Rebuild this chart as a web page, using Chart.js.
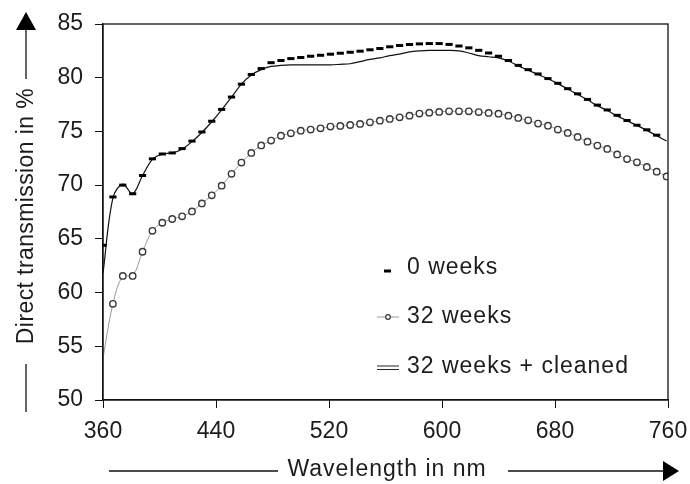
<!DOCTYPE html>
<html>
<head>
<meta charset="utf-8">
<script src="https://cdn.jsdelivr.net/npm/chart.js@4.4.1/dist/chart.umd.min.js"></script>
<style>
  html, body { margin: 0; padding: 0; background: #fff; }
  #wrap { width: 690px; height: 484px; position: relative; }
</style>
</head>
<body>
<div id="wrap"><canvas id="grafico"></canvas></div>
<script>
// Longitudes de onda (nm) de cada punto medido
const wavelengths = [
  360, 367, 374, 381, 388, 395, 402, 409, 416, 423, 430, 437, 444, 451, 458,
  465, 472, 479, 486, 493, 500, 507, 514, 521, 528, 535, 542, 549, 556, 563,
  570, 577, 584, 591, 598, 605, 612, 619, 626, 633, 640, 647, 654, 661, 668,
  675, 682, 689, 696, 703, 710, 717, 724, 731, 738, 745, 752, 759];

// Serie "0 weeks" (marcas de guion)
const weeks0 = [
  64.4, 68.9, 70.0, 69.2, 70.9, 72.45, 72.9, 73.0, 73.4, 74.1, 74.95, 75.95, 77.05, 78.2, 79.4,
  80.3, 80.85, 81.4, 81.6, 81.78, 81.88, 82.0, 82.09, 82.19, 82.28, 82.37, 82.47, 82.6, 82.72, 82.88,
  83.0, 83.09, 83.15, 83.18, 83.18, 83.1, 82.95, 82.78, 82.55, 82.3, 82.0, 81.6, 81.15, 80.75, 80.35,
  79.92, 79.48, 78.98, 78.5, 77.98, 77.45, 77.0, 76.5, 76.02, 75.58, 75.15, 74.65];

// Serie "32 weeks" (círculos)
const weeks32 = [
  53.9, 58.95, 61.55, 61.55, 63.8, 65.75, 66.5, 66.85, 67.1, 67.55, 68.3, 69.05, 69.95, 71.05, 72.1,
  73.0, 73.7, 74.15, 74.6, 74.82, 75.07, 75.17, 75.29, 75.45, 75.51, 75.6, 75.7, 75.85, 76.0, 76.16,
  76.31, 76.47, 76.66, 76.75, 76.82, 76.87, 76.87, 76.87, 76.8, 76.72, 76.65, 76.47, 76.26, 76.03, 75.73,
  75.54, 75.17, 74.86, 74.49, 74.05, 73.68, 73.37, 72.86, 72.43, 72.12, 71.69, 71.25, 70.81];

// Serie "32 weeks + cleaned" (línea continua)
const weeks32Cleaned = [
  61.8, 68.8, 70.1, 69.2, 70.9, 72.4, 72.9, 73.0, 73.35, 74.05, 74.9, 75.9, 77.0, 78.2, 79.4,
  80.25, 80.75, 81.05, 81.15, 81.2, 81.2, 81.2, 81.2, 81.2, 81.25, 81.3, 81.5, 81.7, 81.85, 82.05,
  82.2, 82.4, 82.5, 82.55, 82.55, 82.55, 82.5, 82.3, 82.05, 81.95, 81.85, 81.55, 81.1, 80.7, 80.3,
  79.9, 79.45, 78.95, 78.45, 77.95, 77.4, 76.95, 76.45, 76.0, 75.55, 75.1, 74.6, 74.1];

const seriesNames = ['0 weeks', '32 weeks', '32 weeks + cleaned'];
const yTicks = [50, 55, 60, 65, 70, 75, 80, 85];
const xTicks = [360, 440, 520, 600, 680, 760];
const yTitle = 'Direct transmission in %';
const xTitle = 'Wavelength in nm';

const FONT = '"Liberation Sans", Arial, Helvetica, sans-serif';
const INK = '#1c1c1c';

// Convierte una serie en pares {x, y}
function toPoints(values) {
  return values.map((v, i) => ({ x: wavelengths[i], y: v }));
}

// Dibuja marco, leyenda y títulos de ejes con flechas
const decorPlugin = {
  id: 'decor',
  afterDraw(chart) {
    const ctx = chart.ctx;
    const a = chart.chartArea;
    ctx.save();

    // Marco del área de trazado
    ctx.strokeStyle = '#111';
    ctx.lineWidth = 1.3;
    ctx.strokeRect(a.left, a.top, a.right - a.left, a.bottom - a.top);

    // Leyenda dentro del gráfico
    ctx.font = '23px ' + FONT;
    ctx.fillStyle = INK;
    ctx.textBaseline = 'middle';
    ctx.textAlign = 'left';
    if ('letterSpacing' in ctx) ctx.letterSpacing = '1px';
    const legendY = [268, 317, 367];
    seriesNames.forEach((name, i) => ctx.fillText(name, 407, legendY[i]));

    // Marcador "0 weeks"
    ctx.strokeStyle = '#000';
    ctx.lineWidth = 3;
    ctx.beginPath(); ctx.moveTo(384, 271); ctx.lineTo(391, 271); ctx.stroke();
    // Marcador "32 weeks"
    ctx.strokeStyle = '#999';
    ctx.lineWidth = 1;
    ctx.beginPath(); ctx.moveTo(377, 317); ctx.lineTo(399, 317); ctx.stroke();
    ctx.fillStyle = '#fff';
    ctx.strokeStyle = '#333';
    ctx.lineWidth = 1.2;
    ctx.beginPath(); ctx.arc(388, 317, 2.3, 0, Math.PI * 2); ctx.fill(); ctx.stroke();
    // Marcador "32 weeks + cleaned"
    ctx.strokeStyle = '#222';
    ctx.lineWidth = 1;
    ctx.beginPath();
    ctx.moveTo(377, 366); ctx.lineTo(399, 366);
    ctx.moveTo(377, 369.5); ctx.lineTo(399, 369.5);
    ctx.stroke();

    // Título eje Y con flecha
    ctx.fillStyle = INK;
    ctx.strokeStyle = '#111';
    ctx.lineWidth = 1.3;
    if ('letterSpacing' in ctx) ctx.letterSpacing = '0.4px';
    ctx.save();
    ctx.translate(27, 216);
    ctx.rotate(-Math.PI / 2);
    ctx.textAlign = 'center';
    ctx.fillText(yTitle, 0, 0);
    ctx.restore();
    ctx.beginPath();
    ctx.moveTo(26, 412); ctx.lineTo(26, 364);
    ctx.moveTo(26, 79); ctx.lineTo(26, 28);
    ctx.stroke();
    ctx.fillStyle = '#000';
    ctx.beginPath();
    ctx.moveTo(26, 12); ctx.lineTo(16, 30); ctx.lineTo(36, 30); ctx.closePath();
    ctx.fill();

    // Título eje X con flecha
    ctx.fillStyle = INK;
    if ('letterSpacing' in ctx) ctx.letterSpacing = '1px';
    ctx.textAlign = 'center';
    ctx.fillText(xTitle, 387, 470);
    ctx.beginPath();
    ctx.moveTo(109, 471); ctx.lineTo(278, 471);
    ctx.moveTo(508, 471); ctx.lineTo(664, 471);
    ctx.stroke();
    ctx.fillStyle = '#000';
    ctx.beginPath();
    ctx.moveTo(663, 461); ctx.lineTo(679, 471); ctx.lineTo(663, 481); ctx.closePath();
    ctx.fill();

    ctx.restore();
  }
};

window.addEventListener('load', () => {
  const ctx = document.getElementById('grafico').getContext('2d');
  new Chart(ctx, {
    type: 'line',
    data: {
      datasets: [
        {
          label: seriesNames[0],
          data: toPoints(weeks0),
          showLine: false,
          pointStyle: 'line',
          pointRadius: 3.6,
          pointBorderWidth: 3,
          pointBorderColor: '#000',
          borderColor: '#000'
        },
        {
          label: seriesNames[1],
          data: toPoints(weeks32),
          borderColor: '#9a9a9a',
          borderWidth: 1,
          tension: 0.35,
          pointStyle: 'circle',
          // el primer círculo queda oculto tras el eje en el original
          pointRadius: (c) => (c.dataIndex === 0 ? 0 : 3.2),
          pointBorderWidth: 1.4,
          pointBorderColor: '#3a3a3a',
          pointBackgroundColor: '#fff'
        },
        {
          label: seriesNames[2],
          data: toPoints(weeks32Cleaned),
          borderColor: '#111',
          borderWidth: 1.2,
          tension: 0.35,
          pointRadius: 0
        }
      ]
    },
    options: {
      responsive: true,
      maintainAspectRatio: false,
      animation: false,
      layout: { padding: { top: 24, right: 22, left: 0, bottom: 0 } },
      plugins: {
        legend: { display: false },
        tooltip: { enabled: false }
      },
      scales: {
        x: {
          type: 'linear',
          min: 360,
          max: 760,
          afterFit: (scale) => {
            scale.height = 84;
            scale.paddingLeft = 0;
            scale.paddingRight = 0;
          },
          afterBuildTicks: (scale) => { scale.ticks = xTicks.map(v => ({ value: v })); },
          grid: { drawOnChartArea: false, tickLength: 8, color: '#111', lineWidth: 1 },
          border: { color: '#111', width: 1.3 },
          ticks: { color: INK, padding: 10, font: { family: FONT, size: 23 }, maxRotation: 0 }
        },
        y: {
          min: 50,
          max: 85,
          afterFit: (scale) => {
            scale.width = 103;
            scale.paddingTop = 0;
            scale.paddingBottom = 0;
          },
          afterBuildTicks: (scale) => { scale.ticks = yTicks.map(v => ({ value: v })); },
          grid: { drawOnChartArea: false, tickLength: 8, color: '#111', lineWidth: 1 },
          border: { color: '#111', width: 1.3 },
          ticks: { color: INK, padding: 12, font: { family: FONT, size: 23 } }
        }
      }
    },
    plugins: [decorPlugin]
  });
});
</script>
</body>
</html>
